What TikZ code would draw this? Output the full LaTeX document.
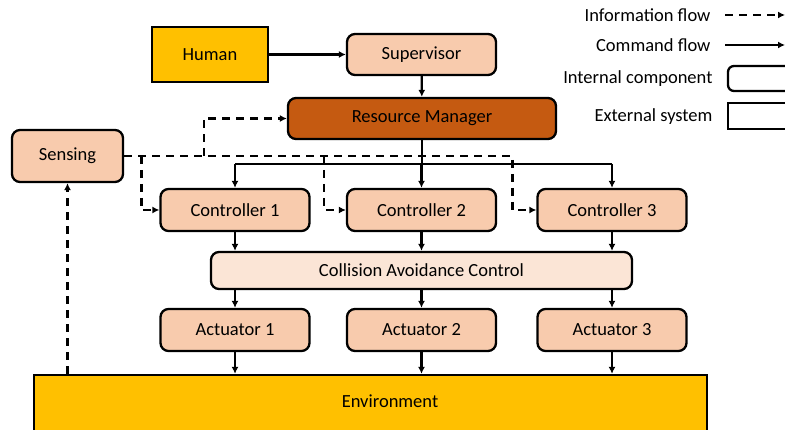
\documentclass[tikz,border=0pt]{standalone}
\usepackage{fontspec}
\setmainfont{Carlito}
\usepackage{xcolor}
\usetikzlibrary{positioning, arrows.meta}

\definecolor{extyellow}{HTML}{FFC000}
\definecolor{peach}{HTML}{F8CBAD}
\definecolor{rust}{HTML}{C55A11}
\definecolor{paleshell}{HTML}{FBE5D6}

\begin{document}
\begin{tikzpicture}[
            x=1pt, y=-1pt,
            font=\fontsize{18.5}{21}\selectfont,
            internal/.style={draw, line width=2.3pt, rounded corners=8pt, fill=peach, minimum width=149pt, minimum height=42pt},
            external/.style={draw, line width=2.3pt, fill=extyellow},
            cmd/.style={line width=2.3pt, -{Latex[length=7pt, width=7pt]}},
            info/.style={line width=2.3pt, dash pattern=on 8pt off 6pt, -{Latex[length=7pt, width=7pt]}},
        ]
            \useasboundingbox (0,0) rectangle (785,430);

            % top row
            \node[external, minimum width=116pt, minimum height=55pt] (human) at (210,54.5) {Human};
            \node[internal, minimum height=41pt] (sup) at (421.5,54.5) {Supervisor};
            \node[internal, fill=rust, minimum width=268pt, minimum height=41pt] (rm) at (422,118.5) {Resource Manager};
            \node[internal, minimum width=111pt, minimum height=52pt] (sens) at (67.5,156) {Sensing};

            % controllers, collision layer, actuators
            \node[internal] (c1) at (235,210) {Controller 1};
            \node[internal] (c2) at (421.5,210) {Controller 2};
            \node[internal] (c3) at (612,210) {Controller 3};
            \node[internal, fill=paleshell, minimum width=421pt, minimum height=37pt] (cac) at (421.5,270.5) {Collision Avoidance Control};
            \node[internal] (a1) at (235,330) {Actuator 1};
            \node[internal] (a2) at (421.5,330) {Actuator 2};
            \node[internal] (a3) at (612,330) {Actuator 3};
            \node[external, minimum width=673pt, minimum height=60pt] (env) at (370.5,405) {};
            \node (envtext) at (390,401) {Environment};

            % command flow
            \draw[cmd] (human) -- (sup);
            \draw[cmd] (sup) -- (rm);
            \coordinate (bus) at (422,164);
            \draw[line width=2.3pt] (rm.south) -- (bus);
            \draw[line width=2.3pt] (bus -| c1.north) -- (bus -| c3.north);
            \foreach \i in {1,2,3} {
                \draw[cmd] (bus -| c\i.north) -- (c\i.north);
                \draw[cmd] (c\i.south) -- (cac.north -| c\i.south);
                \draw[cmd] (cac.south -| a\i.north) -- (a\i.north);
                \draw[cmd] (a\i.south) -- (env.north -| a\i.south);
            }

            % information flow
            \coordinate (j0) at ([xshift=-83pt]rm.west);
            \coordinate (j1) at ([xshift=-18pt]c1.west);
            \coordinate (j2) at ([xshift=-22pt]c2.west);
            \coordinate (j3) at ([xshift=-24pt]c3.west);
            \draw[info] (sens.east) -| (j3) -- (c3.west);
            \draw[info] (j0 |- sens.east) -- (j0) -- (rm.west);
            \draw[info] (j1 |- sens.east) -- (j1) -- (c1.west);
            \draw[info] (j2 |- sens.east) -- (j2) -- (c2.west);
            \draw[info] (env.north -| sens.south) -- (sens.south);

            % legend
            \node[anchor=east] (linfo) at (714,15) {Information flow};
            \node[anchor=east] (lcmd) at (714,45) {Command flow};
            \node[anchor=east] (lint) at (716,79) {Internal component};
            \node[anchor=east] (lext) at (716,117) {External system};
            \coordinate (li a) at (725,15);
            \coordinate (li b) at (785,15);
            \coordinate (lc a) at (725,45);
            \coordinate (lc b) at (785,45);
            \draw[info] (li a) -- (li b);
            \draw[cmd] (lc a) -- (lc b);
            \node[draw, line width=2.3pt, rounded corners=6pt, minimum width=64pt, minimum height=25pt] (lintbox) at (760,78.5) {};
            \node[draw, line width=2.3pt, minimum width=64pt, minimum height=26pt] (lextbox) at (760,116) {};
        \end{tikzpicture}
\end{document}
